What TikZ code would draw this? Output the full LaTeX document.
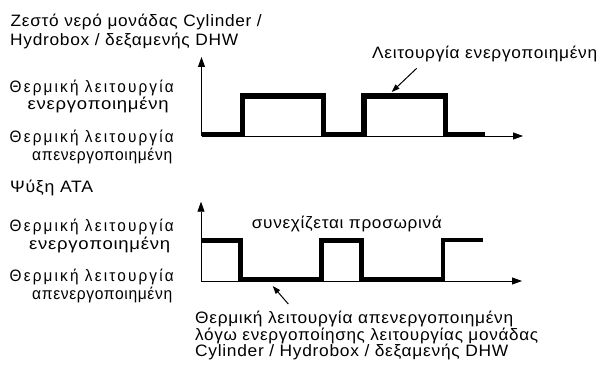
\documentclass[tikz,border=0pt]{standalone}
\usepackage{fontspec}
\usepackage{graphicx}
\setmainfont[LetterSpace=4]{Liberation Sans}
\newfontfamily\spacedfont[LetterSpace=14]{Liberation Sans}
\usetikzlibrary{arrows.meta}
\newcommand{\fitw}[2]{\resizebox{#1pt}{\height}{#2}}
\tikzset{
  lbl/.style={anchor=base west, inner sep=0pt, font=\fontsize{16.5}{18}\selectfont},
  slbl/.style={anchor=base west, inner sep=0pt, font=\spacedfont\fontsize{16.5}{18}\selectfont},
  axis/.style={line width=0.8pt, -{Triangle[length=10pt,width=7pt]}},
  wave/.style={line width=4.5pt, line join=miter, line cap=butt},
  thin/.style={line width=0.7pt},
  pointer/.style={line width=1pt, -{Triangle[length=8pt,width=5.5pt]}}
}
\begin{document}
\begin{tikzpicture}[x=1pt,y=-1pt]
\useasboundingbox (0,0) rectangle (601,371);
% texts
\node[lbl] (t1) at (10.5,26.7) {\fitw{251}{Ζεστό νερό μονάδας Cylinder /}};
\node[lbl] (t2) at (10,45.7) {\fitw{228}{Hydrobox / δεξαμενής DHW}};
\node[slbl] (a1) at (9.5,92.7) {\fitw{164}{Θερμική λειτουργία}};
\node[lbl] (a2) at (27.5,110) {\fitw{141}{ενεργοποιημένη}};
\node[slbl] (a3) at (9.5,143) {\fitw{164}{Θερμική λειτουργία}};
\node[lbl] (a4) at (32,160.5) {\fitw{140}{απενεργοποιημένη}};
\node[lbl] (t3) at (10,192) {\fitw{83}{Ψύξη ATA}};
\node[slbl] (b1) at (9.5,231.7) {\fitw{164}{Θερμική λειτουργία}};
\node[lbl] (b2) at (29,249) {\fitw{141}{ενεργοποιημένη}};
\node[slbl] (b3) at (9.5,281) {\fitw{164}{Θερμική λειτουργία}};
\node[lbl] (b4) at (32,299.5) {\fitw{140}{απενεργοποιημένη}};
\node[lbl] (on) at (372,59) {\fitw{225}{Λειτουργία ενεργοποιημένη}};
\node[lbl] (cont) at (251.7,228.3) {\fitw{190}{συνεχίζεται προσωρινά}};
\node[lbl] (n1) at (195,323.3) {\fitw{318}{Θερμική λειτουργία απενεργοποιημένη}};
\node[lbl] (n2) at (195,340) {\fitw{343}{λόγω ενεργοποίησης λειτουργίας μονάδας}};
\node[lbl] (n3) at (195,356.7) {\fitw{313}{Cylinder / Hydrobox / δεξαμενής DHW}};
% top chart
\coordinate (o1) at (201.5,136);
\coordinate (y1) at (201.5,57);
\coordinate (x1) at (523,136);
\draw[thin] (244.5,98) rectangle (321.3,136);
\draw[thin] (366,98) rectangle (443.2,136);
\draw[wave] (201.5,134.5) -- (242,134.5) -- (242,95.5) -- (323.5,95.5) -- (323.5,134.5)
  -- (363.7,134.5) -- (363.7,95.5) -- (445.5,95.5) -- (445.5,134.5) -- (485,134.5);
\draw[axis] (o1) -- (y1);
\draw[axis] (o1) -- (x1);
\coordinate (p1s) at (416.7,68.3);
\coordinate (p1e) at (391.7,92);
\draw[pointer] (p1s) -- (p1e);
% bottom chart
\coordinate (o2) at (201,281);
\coordinate (y2) at (201,201.7);
\coordinate (x2) at (522,281);
\draw[thin] (201,242.3) rectangle (238.7,281);
\draw[thin] (323.3,242.3) rectangle (359.7,281);
\draw[wave] (201,240) -- (241,240) -- (241,279) -- (321,279) -- (321,240) -- (362,240)
  -- (362,279) -- (443,279) -- (443,240) -- (483.3,240);
\draw[axis] (o2) -- (y2);
\draw[axis] (o2) -- (x2);
\coordinate (p2s) at (288.3,304);
\coordinate (p2e) at (272.7,286);
\draw[pointer] (p2s) -- (p2e);
\end{tikzpicture}
\end{document}
